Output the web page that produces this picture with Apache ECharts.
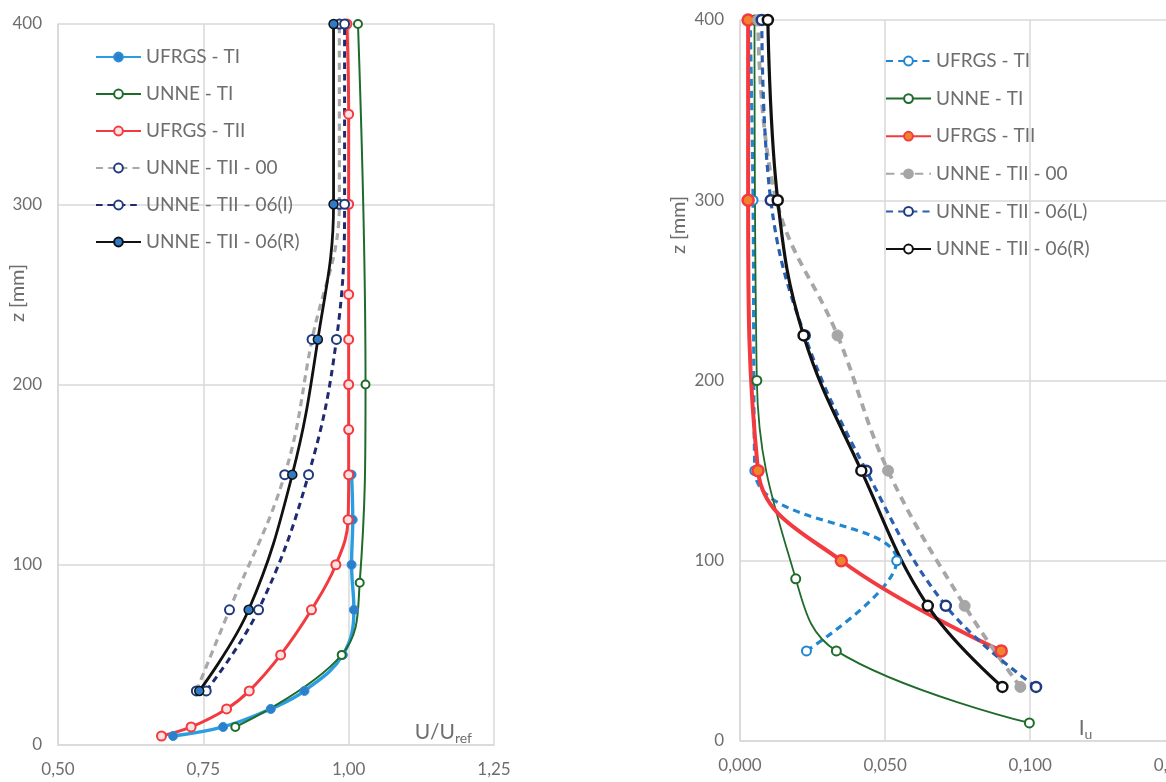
<!DOCTYPE html>
<html>
<head>
<meta charset="utf-8">
<script src="https://cdn.jsdelivr.net/npm/echarts@6/dist/echarts.min.js"></script>
<style>
html, body { margin: 0; padding: 0; background: #fff; overflow: hidden; }
#chart { width: 1200px; height: 782px; }
</style>
</head>
<body>
<div id="chart"></div>
<script>
// ---- left panel: U/Uref ----
var zUfrgsTI_L = [5, 10, 20, 30, 50, 75, 100, 125, 150];
var uUfrgsTI = [0.698, 0.784, 0.866, 0.924, 0.990, 1.009, 1.005, 1.007, 1.005];
var zUnneTI_L = [10, 50, 90, 200, 400];
var uUnneTI = [0.805, 0.988, 1.019, 1.029, 1.016];
var zUfrgsTII_L = [5, 10, 20, 30, 50, 75, 100, 125, 150, 175, 200, 225, 250, 300, 350, 400];
var uUfrgsTII = [0.678, 0.729, 0.790, 0.829, 0.883, 0.936, 0.978, 0.999, 1.0, 1.0, 1.0, 1.0, 1.0, 1.0, 1.0, 0.997];
var zUnneTII = [30, 75, 150, 225, 300, 400];
var uUnne00 = [0.738, 0.795, 0.890, 0.937, 0.984, 0.984];
var uUnne06I = [0.755, 0.845, 0.931, 0.979, 0.993, 0.993];
var uUnne06R = [0.743, 0.828, 0.903, 0.947, 0.974, 0.974];

// ---- right panel: Iu ----
var zUfrgsTI_R = [50, 100, 150, 300, 400];
var iUfrgsTI = [0.0229, 0.054, 0.0051, 0.0045, 0.0035];
var zUnneTI_R = [10, 50, 90, 200, 400];
var iUnneTI = [0.0997, 0.0332, 0.0192, 0.0058, 0.005];
var zUfrgsTII_R = [50, 100, 150, 300, 400];
var iUfrgsTII = [0.090, 0.0349, 0.0062, 0.0028, 0.0028];
var iUnne00 = [0.0966, 0.0774, 0.051, 0.0336, 0.0125, 0.0062];
var iUnne06L = [0.102, 0.0709, 0.0435, 0.0223, 0.0106, 0.0075];
var iUnne06R = [0.0904, 0.0647, 0.0418, 0.0219, 0.013, 0.0096];

var namesLeft = ['UFRGS - TI', 'UNNE - TI', 'UFRGS - TII', 'UNNE - TII - 00', 'UNNE - TII - 06(I)', 'UNNE - TII - 06(R)'];
// zero-width space keeps the right legend bound to the right series
var namesRight = ['UFRGS - TI\u200b', 'UNNE - TI\u200b', 'UFRGS - TII\u200b', 'UNNE - TII - 00\u200b', 'UNNE - TII - 06(L)', 'UNNE - TII - 06(R)\u200b'];

var txt = '#6e6e6e';
var gridCol = '#d9d9d9';

function pairs(xs, zs) {
    return zs.map(function (z, i) { return [xs[i], z]; });
}

function line(name, idx, xs, zs, color, width, dash, symSize, fill, border, borderW) {
    return {
        name: name,
        type: 'line',
        xAxisIndex: idx,
        yAxisIndex: idx,
        data: pairs(xs, zs),
        smooth: 0.4,
        symbol: 'circle',
        symbolSize: symSize,
        showAllSymbol: true,
        lineStyle: { color: color, width: width, type: dash ? [width * 2.2, width * 1.6] : 'solid' },
        itemStyle: { color: fill, borderColor: border, borderWidth: borderW },
        emphasis: { disabled: true },
        z: 2
    };
}

function fmt(d) {
    return function (v) { return v.toFixed(d).replace('.', ','); };
}

function xAxis(idx, min, max, interval, digits, nameRich, nameGap) {
    return {
        gridIndex: idx,
        type: 'value',
        min: min, max: max, interval: interval,
        axisLine: { show: true, onZero: false, lineStyle: { color: gridCol, width: 1.5 } },
        axisTick: { show: false },
        splitLine: { show: true, lineStyle: { color: gridCol, width: 1.5 } },
        axisLabel: { color: txt, fontSize: 17, margin: 16, formatter: fmt(digits), showMaxLabel: true },
        name: nameRich,
        nameLocation: 'end',
        nameGap: nameGap,
        nameTextStyle: {
            align: 'right', verticalAlign: 'bottom', padding: [0, 0, 0, 0],
            rich: {
                m: { fontSize: 21, color: txt, lineHeight: 26, verticalAlign: 'middle' },
                s: { fontSize: 14, color: txt, lineHeight: 12, verticalAlign: 'bottom' }
            }
        }
    };
}

function yAxis(idx) {
    return {
        gridIndex: idx,
        type: 'value',
        min: 0, max: 400, interval: 100,
        axisLine: { show: true, lineStyle: { color: gridCol, width: 1.5 } },
        axisTick: { show: false },
        splitLine: { show: true, lineStyle: { color: gridCol, width: 1.5 } },
        axisLabel: { color: txt, fontSize: 17, margin: 16 }
    };
}

function legend(names, left, top, gap) {
    return {
        data: names,
        orient: 'vertical',
        left: left, top: top,
        padding: 0,
        itemWidth: 45, itemHeight: 11,
        itemGap: gap,
        selectedMode: false,
        textStyle: { color: txt, fontSize: 19, lineHeight: 20 }
    };
}

// rotated axis title "z [mm]"
function zTitle(x, y) {
    return {
        type: 'text',
        x: x, y: y,
        rotation: Math.PI / 2,
        style: { text: 'z [mm]', fill: txt, fontSize: 20, fontFamily: 'Lato', align: 'center', verticalAlign: 'middle' }
    };
}

var series = [
    line(namesLeft[0], 0, uUfrgsTI, zUfrgsTI_L, '#2b9ee0', 3.4, false, 9, '#2d7fcc', '#2b8fd8', 1),
    line(namesLeft[1], 0, uUnneTI, zUnneTI_L, '#1f6b2b', 2, false, 8, '#fff', '#1f6b2b', 2),
    line(namesLeft[2], 0, uUfrgsTII, zUfrgsTII_L, '#f23a3f', 3, false, 9, '#fbe3e3', '#f23a3f', 2),
    line(namesLeft[3], 0, uUnne00, zUnneTII, '#a8a8a8', 3.2, true, 9, '#fff', '#203a7c', 2),
    line(namesLeft[4], 0, uUnne06I, zUnneTII, '#1f2b6e', 3, true, 9, '#fff', '#203a7c', 2),
    line(namesLeft[5], 0, uUnne06R, zUnneTII, '#111', 2.8, false, 9, '#2e7bc9', '#111', 1.5),

    line(namesRight[0], 1, iUfrgsTI, zUfrgsTI_R, '#1f86d2', 3.2, true, 9, '#fff', '#1f86d2', 2),
    line(namesRight[1], 1, iUnneTI, zUnneTI_R, '#1f6b2b', 1.8, false, 9, '#fff', '#1f6b2b', 2),
    line(namesRight[2], 1, iUfrgsTII, zUfrgsTII_R, '#f23a3f', 4, false, 11, '#f0842e', '#f23a3f', 2.5),
    line(namesRight[3], 1, iUnne00, zUnneTII, '#a6a6a6', 3.8, true, 11, '#a6a6a6', '#a6a6a6', 1),
    line(namesRight[4], 1, iUnne06L, zUnneTII, '#2a5fb0', 3.2, true, 10, '#fff', '#1f3a80', 2.5),
    line(namesRight[5], 1, iUnne06R, zUnneTII, '#111', 3.2, false, 10, '#fff', '#111', 2.5)
];

var chart = echarts.init(document.getElementById('chart'), null, { renderer: 'canvas' });
chart.setOption({
    animation: false,
    backgroundColor: '#fff',
    textStyle: { fontFamily: 'Lato, "Open Sans", sans-serif' },
    grid: [
        { left: 58, top: 24, width: 436, height: 721, containLabel: false },
        { left: 740, top: 20, width: 438, height: 721, containLabel: false }
    ],
    xAxis: [
        xAxis(0, 0.5, 1.25, 0.25, 2, '{m|U/U}{s|ref}', -22),
        xAxis(1, 0, 0.15, 0.05, 3, '{m|I}{s|u}', -83)
    ],
    yAxis: [yAxis(0), yAxis(1)],
    legend: [
        legend(namesLeft, 95, 47, 17),
        legend(namesRight, 885, 51, 17.6)
    ],
    graphic: [zTitle(18, 293), zTitle(679, 225)],
    series: series
});
</script>
</body>
</html>
